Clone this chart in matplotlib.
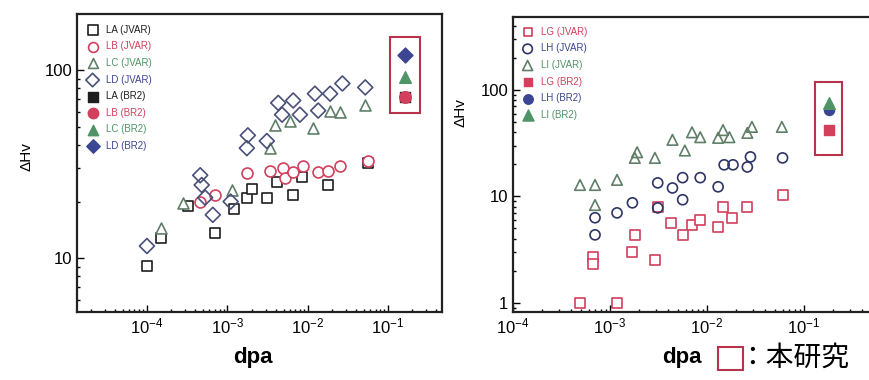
import matplotlib
matplotlib.use('Agg')
import matplotlib.pyplot as plt
from matplotlib.patches import Rectangle
from matplotlib.ticker import LogLocator, NullFormatter

plt.rcParams['font.family'] = ['Liberation Sans', 'DejaVu Sans']
plt.rcParams['mathtext.default'] = 'regular'

# ---- left panel data (dpa, dHv) ----
la_jvar_x = [1.0e-4, 1.5e-4, 3.2e-4, 7e-4, 1.2e-3, 1.75e-3, 2.0e-3, 3.1e-3, 4.1e-3, 6.6e-3, 8.5e-3, 1.8e-2, 5.6e-2]
la_jvar_y = [9.1, 12.8, 19, 13.6, 18.2, 21, 23.3, 21, 25.4, 21.6, 27, 24.5, 32]
lb_jvar_x = [4.6e-4, 7e-4, 1.76e-3, 3.4e-3, 4.9e-3, 5.2e-3, 6.6e-3, 8.8e-3, 1.35e-2, 1.8e-2, 2.5e-2, 5.6e-2]
lb_jvar_y = [20, 21.6, 28.3, 29, 30, 26.6, 28.7, 31, 28.7, 29, 30.8, 32.8]
lc_jvar_x = [1.5e-4, 2.8e-4, 1.15e-3, 3.4e-3, 3.9e-3, 6e-3, 1.16e-2, 1.9e-2, 2.5e-2, 5.2e-2]
lc_jvar_y = [14.4, 19.6, 23, 38.5, 51, 54, 49, 61, 60, 65]
ld_jvar_x = [1.0e-4, 4.6e-4, 4.8e-4, 5.3e-4, 6.6e-4, 1.1e-3, 1.75e-3, 1.8e-3, 3.1e-3, 4.3e-3, 4.8e-3,
             6.6e-3, 8e-3, 1.23e-2, 1.35e-2, 1.9e-2, 2.7e-2, 5.2e-2]
ld_jvar_y = [11.6, 27.6, 24.5, 21, 17, 20, 38.5, 45, 42, 67, 58, 69, 58, 75, 61, 75, 85, 81]
br2_left_x = [0.16]
la_br2_y = [72]
lb_br2_y = [72]
lc_br2_y = [92]
ld_br2_y = [120]

# ---- right panel data ----
lg_jvar_x = [4.9e-4, 1.18e-3, 6.7e-4, 6.7e-4, 1.7e-3, 1.8e-3, 2.9e-3, 3.1e-3, 4.2e-3, 5.6e-3, 7e-3,
             8.5e-3, 1.3e-2, 1.46e-2, 1.8e-2, 2.6e-2, 6e-2]
lg_jvar_y = [1.0, 1.0, 2.7, 2.3, 3.0, 4.35, 2.5, 8.0, 5.6, 4.35, 5.4, 6.0, 5.2, 8.0, 6.3, 8.0, 10.3]
lh_jvar_x = [7e-4, 7e-4, 1.18e-3, 1.7e-3, 3.1e-3, 3.1e-3, 4.4e-3, 5.6e-3, 5.6e-3, 8.5e-3, 1.3e-2,
             1.5e-2, 1.85e-2, 2.6e-2, 2.8e-2, 6e-2]
lh_jvar_y = [6.3, 4.35, 7.0, 8.7, 13.4, 7.8, 12, 15, 9.3, 15, 12.3, 19.8, 19.8, 18.9, 23.5, 23]
li_jvar_x = [4.9e-4, 7e-4, 7e-4, 1.18e-3, 1.8e-3, 1.9e-3, 2.9e-3, 4.4e-3, 5.9e-3, 7e-3, 8.5e-3,
             1.3e-2, 1.46e-2, 1.7e-2, 2.6e-2, 2.9e-2, 5.9e-2]
li_jvar_y = [12.8, 12.8, 8.3, 14.3, 23, 26, 23, 34, 27, 40, 36, 35.5, 42, 36, 39.5, 45, 45]
br2_right_x = [0.18]
lg_br2_y = [42]
lh_br2_y = [65]
li_br2_y = [75]

RED = '#d2405e'
GREEN = '#4f9466'
BLUE = '#3b4591'
BLACK = '#1e1e1e'
BOX = '#b8344e'

fig = plt.figure(figsize=(8.7, 3.8), dpi=100)


def style_axes(ax):
    ax.set_xscale('log')
    ax.set_yscale('log')
    ax.xaxis.set_major_locator(LogLocator(base=10))
    ax.xaxis.set_minor_locator(LogLocator(base=10, subs=range(2, 10)))
    ax.xaxis.set_minor_formatter(NullFormatter())
    ax.yaxis.set_minor_formatter(NullFormatter())
    ax.tick_params(which='both', direction='in', labelsize=12, width=1.0)
    ax.tick_params(which='major', length=5)
    ax.tick_params(which='minor', length=2.5)
    for s in ax.spines.values():
        s.set_linewidth(1.6)
        s.set_color('#222222')


# ---------- left panel ----------
ax1 = fig.add_axes([0.0885, 0.179, 0.4195, 0.784])
style_axes(ax1)
kw = dict(s=62, linewidths=1.2)
ax1.scatter(la_jvar_x, la_jvar_y, marker='s', facecolors='white', edgecolors=BLACK, label='LA (JVAR)', **kw)
ax1.scatter(lb_jvar_x, lb_jvar_y, marker='o', facecolors='white', edgecolors=RED, label='LB (JVAR)', **kw)
ax1.scatter(lc_jvar_x, lc_jvar_y, marker='^', facecolors='white', edgecolors='#5f7f68', label='LC (JVAR)', **kw)
ax1.scatter(ld_jvar_x, ld_jvar_y, marker='D', facecolors='none', edgecolors='#4a5078', label='LD (JVAR)', s=58, linewidths=1.2)
ax1.scatter(br2_left_x, la_br2_y, marker='s', color=BLACK, label='LA (BR2)', s=62)
ax1.scatter(br2_left_x, lb_br2_y, marker='o', color=RED, label='LB (BR2)', s=70)
ax1.scatter(br2_left_x, lc_br2_y, marker='^', color=GREEN, label='LC (BR2)', s=70)
ax1.scatter(br2_left_x, ld_br2_y, marker='D', color=BLUE, label='LD (BR2)', s=58)
ax1.add_patch(Rectangle((0.106, 59), 0.251 - 0.106, 150 - 59, fill=False, edgecolor=BOX, linewidth=1.5))
ax1.set_xlim(10 ** -4.87, 10 ** -0.33)
ax1.set_ylim(5.17, 199)
ax1.set_xticks([1e-4, 1e-3, 1e-2, 1e-1])
ax1.set_yticks([10, 100])
ax1.set_yticklabels(['10', '100'])
ax1.legend(loc='upper left', frameon=False, fontsize=7, labelspacing=0.68,
           handletextpad=0.9, borderaxespad=0.7, handlelength=1.0, markerscale=0.9,
           labelcolor=[BLACK, RED, GREEN, BLUE, BLACK, RED, GREEN, BLUE])

# ---------- right panel ----------
ax2 = fig.add_axes([0.5897, 0.179, 0.4126, 0.776])
style_axes(ax2)
kw2 = dict(s=44, linewidths=1.2)
ax2.scatter(lg_jvar_x, lg_jvar_y, marker='s', facecolors='white', edgecolors=RED, label='LG (JVAR)', **kw2)
ax2.scatter(lh_jvar_x, lh_jvar_y, marker='o', facecolors='none', edgecolors='#2e3466', label='LH (JVAR)', s=52, linewidths=1.2)
ax2.scatter(li_jvar_x, li_jvar_y, marker='^', facecolors='none', edgecolors='#5f7f68', label='LI (JVAR)', s=58, linewidths=1.2)
ax2.scatter(br2_right_x, lg_br2_y, marker='s', color=RED, label='LG (BR2)', s=44)
ax2.scatter(br2_right_x, lh_br2_y, marker='o', color=BLUE, label='LH (BR2)', s=52)
ax2.scatter(br2_right_x, li_br2_y, marker='^', color=GREEN, label='LI (BR2)', s=70)
ax2.add_patch(Rectangle((0.13, 24.5), 0.246 - 0.13, 119 - 24.5, fill=False, edgecolor=BOX, linewidth=1.5))
ax2.set_xlim(1e-4, 10 ** -0.3)
ax2.set_ylim(0.82, 484)
ax2.set_xticks([1e-4, 1e-3, 1e-2, 1e-1])
ax2.set_yticks([1, 10, 100])
ax2.set_yticklabels(['1', '10', '100'])
ax2.legend(loc='upper left', frameon=False, fontsize=7, labelspacing=0.68,
           handletextpad=0.9, borderaxespad=0.6, handlelength=1.0, markerscale=0.95,
           labelcolor=[RED, BLUE, GREEN, RED, BLUE, GREEN])

# axis labels
fig.text(0.031, 0.587, 'ΔHv', rotation=90, ha='center', va='center', fontsize=11)
fig.text(0.529, 0.705, 'ΔHv', rotation=90, ha='center', va='center', fontsize=11)
fig.text(0.291, 0.058, 'dpa', ha='center', va='center', fontsize=16, fontweight='bold')
fig.text(0.784, 0.058, 'dpa', ha='center', va='center', fontsize=16, fontweight='bold')
fig.patches.append(Rectangle((718 / 870, 1 - 370 / 380), 25 / 870, 23 / 380, fill=False,
                             edgecolor=BOX, linewidth=1.5, transform=fig.transFigure, figure=fig))
fig.text(0.849, 0.058, '：本研究', ha='left', va='center', fontsize=20,
         family=['Noto Sans CJK JP', 'DejaVu Sans'])

fig.savefig('out.png', dpi=100)
